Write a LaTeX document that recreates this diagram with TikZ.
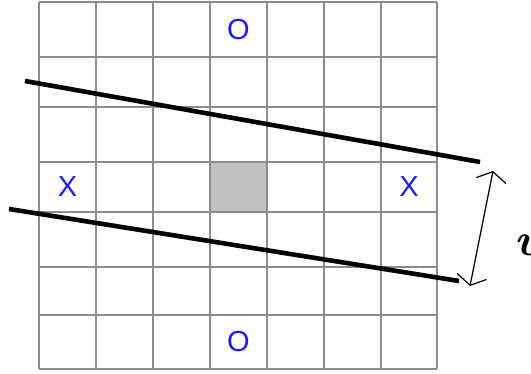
\documentclass[tikz,border=0pt]{standalone}
\usepackage{fontspec}
\newfontfamily\markfont{Liberation Sans}
\usetikzlibrary{arrows.meta}
\definecolor{cGrid} {HTML}{8C8C8C}
\definecolor{cCell} {HTML}{C0C0C0}
\definecolor{cMark} {HTML}{1A1AFF}
\definecolor{ink}   {HTML}{000000}

\begin{document}
\begin{tikzpicture}[x=1pt,y=-1pt,
    boardline/.style={draw=cGrid,line width=1.6pt},
    wall/.style     ={draw=ink,line width=4.6pt},
    piece/.style    ={text=cMark,inner sep=0pt,font=\markfont\fontsize{29}{29}\selectfont},
    gap/.style      ={draw=ink,line width=1.2pt,
                      {Straight Barb[length=9pt,width=30pt]}-{Straight Barb[length=9pt,width=30pt]}},
  ]

% fixed bounding box -> same proportions as the screenshot
\useasboundingbox (0,0) rectangle (531,374);

% ---- board -----------------------------------------------------------------
\fill[cCell] (210,162) rectangle (267,212);
\foreach \x in {39,96,153,210,267,324,381,437}
  \draw[boardline] (\x,2) -- (\x,369);
\foreach \y in {2,57,107,162,212,267,315,369}
  \draw[boardline] (39,\y) -- (437,\y);

% ---- pieces ----------------------------------------------------------------
\node[piece] (oTop) at (238.5,29.5) {O};
\node[piece] (oBot) at (238.5,342)  {O};
\node[piece] (xL)   at (67.5,187)   {X};
\node[piece] (xR)   at (409,187)    {X};

% ---- band ------------------------------------------------------------------
\draw[wall] (25,81) -- (480,162);
\draw[wall] (9,209) -- (459,281);

% ---- width -----------------------------------------------------------------
\coordinate (wTop) at (493,171);
\coordinate (wBot) at (470,286);
\draw[gap] (wTop) -- (wBot);
\node[anchor=base west,inner sep=0pt,font=\fontsize{46}{46}\selectfont\itshape\bfseries]
  (wLbl) at (514,256) {w};

\end{tikzpicture}
\end{document}
